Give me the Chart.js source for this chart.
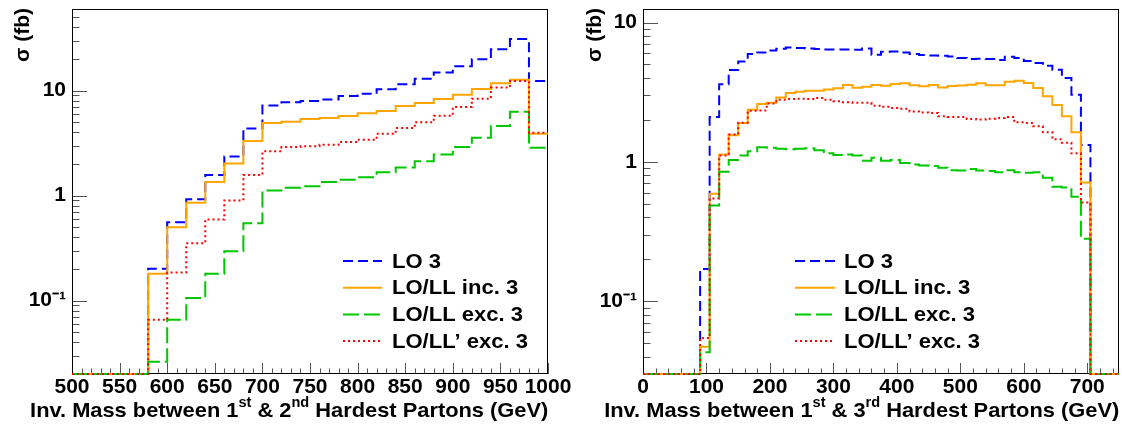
<!DOCTYPE html>
<html><head><meta charset="utf-8">
<script src="https://cdn.jsdelivr.net/npm/chart.js@4/dist/chart.umd.min.js"></script>
<style>
html,body{margin:0;padding:0;background:#fff;width:1122px;height:425px;overflow:hidden;font-family:"Liberation Sans",Arial,Helvetica,sans-serif;}
canvas{position:absolute;top:0;}
#c1{left:0;}
#c2{left:561px;}
.xt{position:absolute;font-weight:bold;font-size:21px;line-height:22px;white-space:nowrap;color:#000;text-align:right;transform-origin:100% 50%;transform:scaleX(1.04);}
.xt sup{font-size:14px;line-height:0;position:relative;top:-2px;}
.yt{position:absolute;width:200px;font-weight:bold;font-size:21px;line-height:22px;white-space:nowrap;color:#000;text-align:right;transform-origin:0 0;transform:rotate(-90deg);}
</style>
</head><body>
<canvas id="c1" width="600" height="425"></canvas>
<canvas id="c2" width="561" height="425"></canvas>
<div class="xt" style="right:574px;top:399px;">Inv. Mass between 1<sup>st</sup> &amp; 2<sup>nd</sup> Hardest Partons (GeV)</div>
<div class="xt" style="right:3px;top:399px;">Inv. Mass between 1<sup>st</sup> &amp; 3<sup>rd</sup> Hardest Partons (GeV)</div>
<div class="yt" style="left:11px;top:208px;">σ (fb)</div>
<div class="yt" style="left:583px;top:208px;">σ (fb)</div>
<script>
// ---------------- DATA ----------------
const seriesNames = ['LO 3', 'LO/LL inc. 3', 'LO/LL exc. 3', 'LO/LL\u2019 exc. 3'];

// Left panel: invariant mass between 1st & 2nd hardest partons, bin edges (GeV)
const leftEdges = [500,520,540,560,580,600,620,640,660,680,700,720,740,760,780,800,820,840,860,880,900,920,940,960,980,1000];
const leftLO3   = [0,0,0,0,0.201,0.559,0.926,1.57,2.36,4.37,7.24,7.78,7.96,8.26,8.9,9.36,10.3,11.5,13.0,14.9,17.1,19.9,24.8,31.0,12.35];
const leftIncl  = [0,0,0,0,0.18,0.50,0.856,1.35,2.03,3.31,4.91,5.06,5.36,5.48,5.73,6.08,6.4,7.15,7.62,8.32,9.16,10.4,11.8,12.7,3.89];
const leftExcl  = [0,0,0,0,0.0261,0.0656,0.106,0.18,0.296,0.547,1.12,1.19,1.23,1.35,1.42,1.50,1.67,1.85,2.13,2.47,2.90,3.56,4.60,6.31,2.86];
const leftExclP = [0,0,0,0,0.0656,0.185,0.352,0.593,0.90,1.57,2.65,2.90,2.96,3.06,3.24,3.41,3.89,4.40,5.01,5.78,6.98,8.39,10.7,12.35,3.98];

// Right panel: invariant mass between 1st & 3rd hardest partons, bin edges (GeV)
const rightEdges = [0,15,30,45,60,75,90,105,120,135,150,165,180,195,210,225,240,255,270,285,300,315,330,345,360,375,390,405,420,435,450,465,480,495,510,525,540,555,570,585,600,615,630,645,660,675,690,705,720,735,750];
const rightLO3   = [0,0,0,0,0,0,0.17,2.1,3.6,4.56,5.26,5.94,6.1,6.3,6.48,6.62,6.56,6.5,6.45,6.4,6.4,6.4,6.37,6.5,5.87,6.17,6.2,6.1,5.94,5.84,5.8,5.77,5.71,5.56,5.47,5.5,5.47,5.38,5.68,5.56,5.29,5.12,4.9,4.58,4.0,3.03,1.32,0,0,0];
const rightIncl  = [0,0,0,0,0,0,0.047,0.59,1.13,1.55,1.90,2.36,2.60,2.65,2.90,3.12,3.19,3.24,3.24,3.30,3.37,3.56,3.40,3.46,3.56,3.52,3.62,3.66,3.55,3.48,3.56,3.42,3.50,3.53,3.58,3.66,3.55,3.55,3.75,3.82,3.68,3.39,2.95,2.56,2.12,1.63,0.71,0,0,0];
const rightExcl  = [0,0,0,0,0,0,0.0429,0.486,0.848,1.03,1.11,1.19,1.27,1.26,1.24,1.23,1.24,1.25,1.21,1.15,1.12,1.13,1.11,1.02,1.07,1.02,1.03,0.98,0.957,0.94,0.935,0.906,0.87,0.868,0.89,0.868,0.86,0.842,0.87,0.842,0.834,0.842,0.768,0.662,0.655,0.561,0.281,0,0,0];
const rightExclP = [0,0,0,0,0,0,0.0545,0.546,1.11,1.57,1.91,2.33,2.34,2.62,2.79,2.82,2.84,2.82,2.87,2.79,2.72,2.68,2.65,2.65,2.53,2.48,2.43,2.40,2.30,2.26,2.24,2.12,2.10,2.10,2.03,2.01,2.04,2.06,2.10,1.92,1.90,1.80,1.63,1.45,1.37,1.15,0.51,0,0,0];

// Axis tick labels
const leftXTickLabels  = [500,550,600,650,700,750,800,850,900,950,1000];
const rightXTickLabels = [0,100,200,300,400,500,600,700];
const yTickValues = [0.1, 1, 10];
const yTickTexts  = ['10\u207B\u00B9', '1', '10'];

// ---------------- STYLE ----------------
const FONT = '"Liberation Sans", Arial, Helvetica, sans-serif';
const seriesColors = ['#0000ff', '#ffa500', '#00c800', '#ff0000'];
const seriesDash   = [[10,5], [], [16,5], [2,3]];
const seriesWidth  = [2, 2, 2, 2];
const seriesOrder  = [3, 2, 1, 0];

// empty bins are drawn on the frame floor, as ROOT does on a log axis
function histPoints(edges, vals, floor) {
  const pts = vals.map((v, i) => ({x: edges[i], y: v > 0 ? v : floor}));
  pts.push({x: edges[edges.length - 1], y: pts[pts.length - 1].y});
  return pts;
}
function logTicks(min, max) {
  const out = [];
  for (let e = Math.floor(Math.log10(min)); e <= Math.ceil(Math.log10(max)); e++) {
    for (let m = 1; m <= 9; m++) {
      const v = m * Math.pow(10, e);
      if (v >= min * (1 - 1e-9) && v <= max * (1 + 1e-9)) out.push(v);
    }
  }
  return out;
}
function isDecade(v) { const l = Math.log10(v); return Math.abs(l - Math.round(l)) < 1e-9; }

const frameTicks = {
  id: 'frameTicks',
  beforeDatasetsDraw(chart, args, o) {
    const {ctx, chartArea: a} = chart;
    const xs = chart.scales.x, ys = chart.scales.y;
    ctx.save();
    ctx.strokeStyle = '#555';
    ctx.lineWidth = 1;
    ctx.beginPath();
    ys.ticks.forEach(t => {
      const y = Math.round(ys.getPixelForValue(t.value)) + 0.5;
      const len = isDecade(t.value) ? o.yMajor : o.yMinor;
      ctx.moveTo(a.left, y); ctx.lineTo(a.left + len, y);
    });
    for (let v = xs.min; v <= xs.max + 1e-9; v += o.xMinorStep) {
      const x = Math.round(xs.getPixelForValue(v)) + 0.5;
      const major = Math.abs(v / o.xMajorStep - Math.round(v / o.xMajorStep)) < 1e-9;
      ctx.moveTo(x, a.bottom); ctx.lineTo(x, a.bottom - (major ? o.xMajor : o.xMinor));
    }
    ctx.stroke();
    ctx.strokeStyle = '#000';
    ctx.strokeRect(a.left + 0.5, a.top + 0.5, a.right - a.left - 1, a.bottom - a.top - 1);
    ctx.restore();
  },
  afterDraw(chart, args, o) {
    const ctx = chart.ctx;
    ctx.save();
    ctx.font = 'bold 21px ' + FONT;
    ctx.textBaseline = 'middle';
    ctx.fillStyle = '#000';
    chart.data.datasets.forEach((ds, i) => {
      const y = o.legY + i * o.legDy;
      ctx.beginPath();
      ctx.strokeStyle = ds.borderColor;
      ctx.lineWidth = ds.borderWidth;
      ctx.setLineDash(ds.borderDash);
      ctx.moveTo(o.legX0, y); ctx.lineTo(o.legX1, y);
      ctx.stroke();
      ctx.setLineDash([]);
      ctx.save();
      ctx.translate(o.legTx, y + 1);
      ctx.scale(1.05, 1);
      ctx.fillText(ds.label, 0, 0);
      ctx.restore();
    });
    ctx.restore();
  }
};

function makePanel(id, edges, series, xmin, xmax, xTicks, xStep, xMinorStep, ymin, ymax, yAxisWidth, padRight, leg) {
  const tickFont = {family: FONT, size: 21, weight: 'bold'};
  return new Chart(document.getElementById(id), {
    type: 'line',
    data: {
      datasets: series.map((vals, i) => ({
        label: seriesNames[i],
        data: histPoints(edges, vals, ymin),
        borderColor: seriesColors[i],
        borderDash: seriesDash[i],
        borderWidth: seriesWidth[i],
        order: seriesOrder[i],
        stepped: 'before',
        pointRadius: 0,
        fill: false,
        tension: 0,
        clip: 3
      }))
    },
    options: {
      responsive: false,
      animation: false,
      devicePixelRatio: 1,
      layout: {padding: {top: 9, right: padRight, bottom: 0, left: 0}},
      plugins: {
        legend: {display: false},
        tooltip: {enabled: false},
        frameTicks: Object.assign({yMajor: 15, yMinor: 7.5, xMajor: 11, xMinor: 5.5, xMajorStep: xStep, xMinorStep: xMinorStep}, leg)
      },
      scales: {
        x: {
          type: 'linear', min: xmin, max: xmax,
          grid: {display: false, drawTicks: false}, border: {display: false},
          afterBuildTicks(s) { s.ticks = xTicks.map(v => ({value: v})); },
          ticks: {autoSkip: false, maxRotation: 0, minRotation: 0, padding: 1, color: '#000', font: tickFont,
                  callback(v) { return String(v); }},
          afterFit(s) { s.height = 51; s.paddingLeft = 0; s.paddingRight = 0; }
        },
        y: {
          type: 'logarithmic', min: ymin, max: ymax,
          grid: {display: false, drawTicks: false}, border: {display: false},
          afterBuildTicks(s) { s.ticks = logTicks(ymin, ymax).map(v => ({value: v})); },
          ticks: {
            autoSkip: false, padding: 6, color: '#000', font: tickFont,
            callback(v) {
              const k = yTickValues.findIndex(t => Math.abs(t - v) < 1e-9 * t);
              return k >= 0 ? yTickTexts[k] : '';
            }
          },
          afterFit(s) { s.width = yAxisWidth; s.paddingTop = 0; s.paddingBottom = 0; }
        }
      }
    },
    plugins: [frameTicks]
  });
}

makePanel('c1', leftEdges, [leftLO3, leftIncl, leftExcl, leftExclP],
  500, 1000, leftXTickLabels, 50, 10, 0.02, 60, 72, 52,
  {legX0: 343, legX1: 382, legTx: 392, legY: 261, legDy: 26.7});
makePanel('c2', rightEdges, [rightLO3, rightIncl, rightExcl, rightExclP],
  0, 750, rightXTickLabels, 100, 20, 0.03, 12.5, 82, 3,
  {legX0: 234, legX1: 274, legTx: 283, legY: 261, legDy: 26.7});
</script>
</body></html>
